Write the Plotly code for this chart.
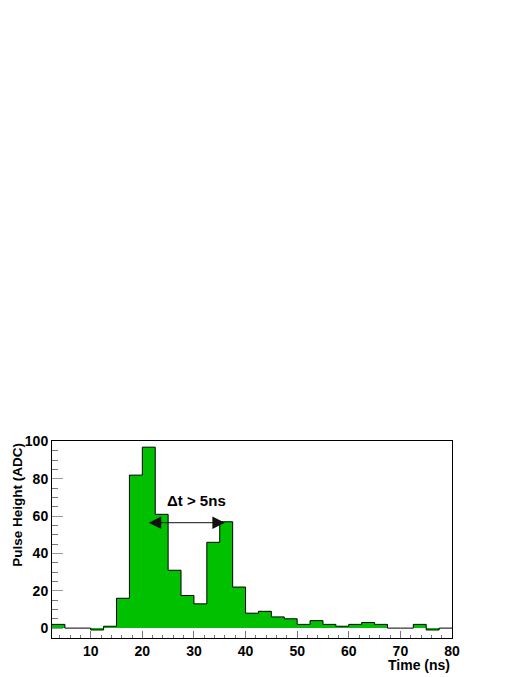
import numpy as np
import plotly.graph_objects as go

# Histogram: 2.5 ns bins from 2.5 to 80 ns
bin_low = [2.5, 5, 7.5, 10, 12.5, 15, 17.5, 20, 22.5, 25, 27.5, 30, 32.5, 35, 37.5, 40,
           42.5, 45, 47.5, 50, 52.5, 55, 57.5, 60, 62.5, 65, 67.5, 70, 72.5, 75, 77.5]
bin_width = 2.5
counts = [2, 0, 0, -1, 1, 16, 82, 97, 61, 31, 17.5, 13, 46, 57, 22, 8,
          9, 6, 5, 2, 4, 2, 1, 2, 3, 2, 0, 0, 2, -1, 0]

# Delta-t arrow between the two peaks
arrow_x = [20.95, 36.0]
arrow_y = 56.5
label_x, label_y = 30.4, 68.3

x_range = [2.5, 80]
y_range = [-5.3, 100.3]

edges = list(bin_low) + [bin_low[-1] + bin_width]
steps = list(counts) + [counts[-1]]

font = dict(family="Liberation Sans, Arial, Helvetica, sans-serif", color="black", weight="bold")

fig = go.Figure()
fig.add_trace(go.Scatter(
    x=edges, y=steps, mode="lines", line_shape="hv",
    line=dict(color="black", width=1),
    fill="tozeroy", fillcolor="rgb(0,192,0)",
    hoverinfo="skip", showlegend=False,
))

fig.add_annotation(
    x=arrow_x[1], y=arrow_y, ax=arrow_x[0], ay=arrow_y,
    xref="x", yref="y", axref="x", ayref="y",
    text="", showarrow=True, arrowhead=2, arrowside="end+start",
    arrowsize=2.5, arrowwidth=1, arrowcolor="#111", standoff=0, startstandoff=0,
)
fig.add_annotation(
    x=label_x, y=label_y, xref="x", yref="y", text="Δt > 5ns",
    showarrow=False, font=dict(font, size=15),
)
fig.add_annotation(
    x=1.0, y=-0.135, xref="paper", yref="paper", text="Time (ns)",
    showarrow=False, xanchor="right", yanchor="middle", font=dict(font, size=14),
)
fig.add_annotation(
    x=-0.088, y=1.0, xref="paper", yref="paper", text="Pulse Height (ADC)",
    showarrow=False, textangle=-90, xanchor="center", yanchor="top", font=dict(font, size=13.5),
)

# page body has an 8px margin, so the figure is 8px smaller than the window
fig.update_layout(
    width=515, height=669,
    margin=dict(l=44, r=71, t=433, b=39),
    paper_bgcolor="white", plot_bgcolor="white",
    font=dict(font, size=14),
)
fig.update_xaxes(
    range=x_range, tickvals=[10, 20, 30, 40, 50, 60, 70, 80],
    showgrid=False, zeroline=False,
    showline=True, linecolor="black", linewidth=1, mirror=True,
    ticks="inside", ticklen=7, tickcolor="#777", tickwidth=1,
    minor=dict(ticks="inside", dtick=2, tick0=0, ticklen=3.5, tickcolor="#777", showgrid=False),
    tickfont=dict(font, size=14),
)
fig.update_yaxes(
    range=y_range, tickvals=[0, 20, 40, 60, 80, 100],
    showgrid=False, zeroline=False,
    showline=True, linecolor="black", linewidth=1, mirror=True,
    ticks="inside", ticklen=11, tickcolor="#999", tickwidth=1,
    minor=dict(ticks="inside", dtick=5, tick0=0, ticklen=6, tickcolor="#777", showgrid=False),
    tickfont=dict(font, size=14),
)

fig.write_html("out.html")
